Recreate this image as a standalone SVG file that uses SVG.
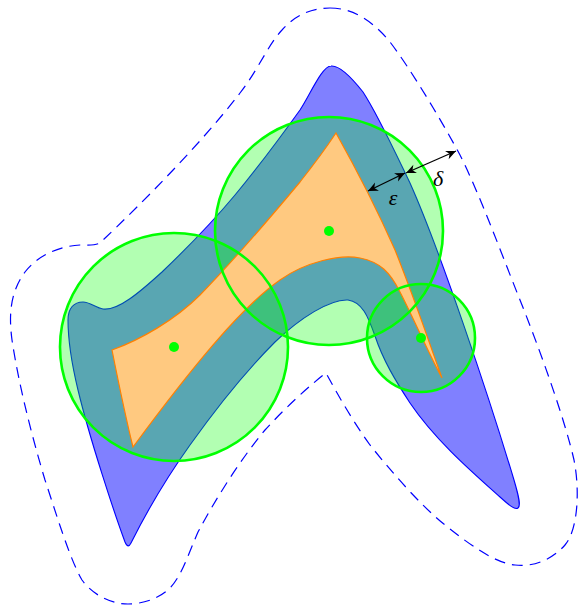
<svg xmlns="http://www.w3.org/2000/svg" width="580" height="607" viewBox="0 0 580 607">
<style>
.blue{fill:#8080ff;stroke:#0000ff;stroke-width:1.1}
.cfill{fill:#00ff00;fill-opacity:0.3;stroke:none}
.cline{fill:none;stroke:#00ff00;stroke-width:2.6}
.orange{fill:#ffc980;stroke:#ff8000;stroke-width:1.2}
.dot{fill:#00ff00}
.dash{fill:none;stroke:#0000ff;stroke-width:1.2;stroke-dasharray:11 7}
.arr{stroke:#000;stroke-width:1.3;fill:none;marker-start:url(#ah);marker-end:url(#ah)}
.lbl{font-family:"Liberation Serif",serif;font-style:italic;font-size:22px;fill:#000;text-anchor:middle}
</style>
<defs>
<marker id="ah" viewBox="-12 -6 14 12" refX="0" refY="0" markerWidth="14" markerHeight="12" markerUnits="userSpaceOnUse" orient="auto-start-reverse">
<path d="M0,0 L-10,-4.5 L-7,0 L-10,4.5 Z" fill="#000"/>
</marker>
</defs>
<g id="shape-blue">
<path class="blue" d="M 331,66 C 340,65 352,78 363,92 C 378,115 395,152 410,183 C 440,250 490,400 514,480 C 519,497 521,506 518,508 C 515,510 510,506 500,497 C 472,472 435,440 410,403 C 395,380 383,360 375,336 C 368,316 362,302 348,300 C 330,299 300,318 275,342 C 245,372 215,410 190,445 C 165,480 145,515 131,543 C 129,547 127,547 125,542 C 115,515 90,440 78,390 C 72,365 68,340 68,320 C 68,308 74,302 83,302 C 90,302 96,308 103,309 C 118,311 140,292 162,272 C 185,250 210,225 235,195 C 260,165 282,135 300,110 C 310,95 322,66 331,66 Z"/>
</g>
<g id="circle-fills">
<circle class="cfill" cx="329" cy="231" r="114"/>
<circle class="cfill" cx="174" cy="347" r="114"/>
<circle class="cfill" cx="421" cy="338" r="54"/>
</g>
<g id="shape-orange">
<path class="orange" d="M 336,133 C 350,158 375,205 395,250 C 415,300 430,345 442,378 C 428,352 412,315 400,292 C 390,272 380,262 360,258 C 340,254 305,262 280,280 C 240,308 190,370 133,447 C 125,415 118,380 112,350 C 140,340 175,320 200,295 C 232,262 270,218 300,182 C 315,163 326,148 336,133 Z"/>
</g>
<g id="circle-big">
<circle class="cline" cx="329" cy="231" r="114"/>
<circle class="dot" cx="329" cy="231" r="5"/>
</g>
<g id="circle-left">
<circle class="cline" cx="174" cy="347" r="114"/>
<circle class="dot" cx="174" cy="347" r="5"/>
</g>
<g id="circle-small">
<circle class="cline" cx="421" cy="338" r="54"/>
<circle class="dot" cx="421" cy="338" r="5"/>
</g>
<g id="dashed-outline">
<path class="dash" d="M 330,8 C 352,8 372,20 390,42 C 410,68 440,118 460,155 C 480,195 500,250 520,300 C 540,350 565,420 574,460 C 580,490 578,530 565,545 C 550,562 530,567 515,565 C 495,563 470,545 445,525 C 420,505 390,470 370,445 C 352,420 338,395 326,373 C 310,385 285,408 265,430 C 240,460 215,500 198,532 C 188,555 182,575 170,588 C 158,600 140,604 128,604 C 110,604 92,594 82,580 C 70,560 55,510 45,480 C 30,430 18,380 12,340 C 8,310 12,290 25,272 C 38,255 60,246 80,245 C 92,245 98,246 103,240 C 140,205 200,145 240,93 C 258,70 268,45 282,30 C 295,15 312,8 330,8 Z"/>
</g>
<g id="connectors">
<line class="arr" x1="368" y1="191" x2="405" y2="173"/>
<line class="arr" x1="406" y1="173" x2="456" y2="151"/>
</g>
<g id="labels">
<text class="lbl" x="393" y="205">ε</text>
<text class="lbl" x="438" y="186">δ</text>
</g>
</svg>
